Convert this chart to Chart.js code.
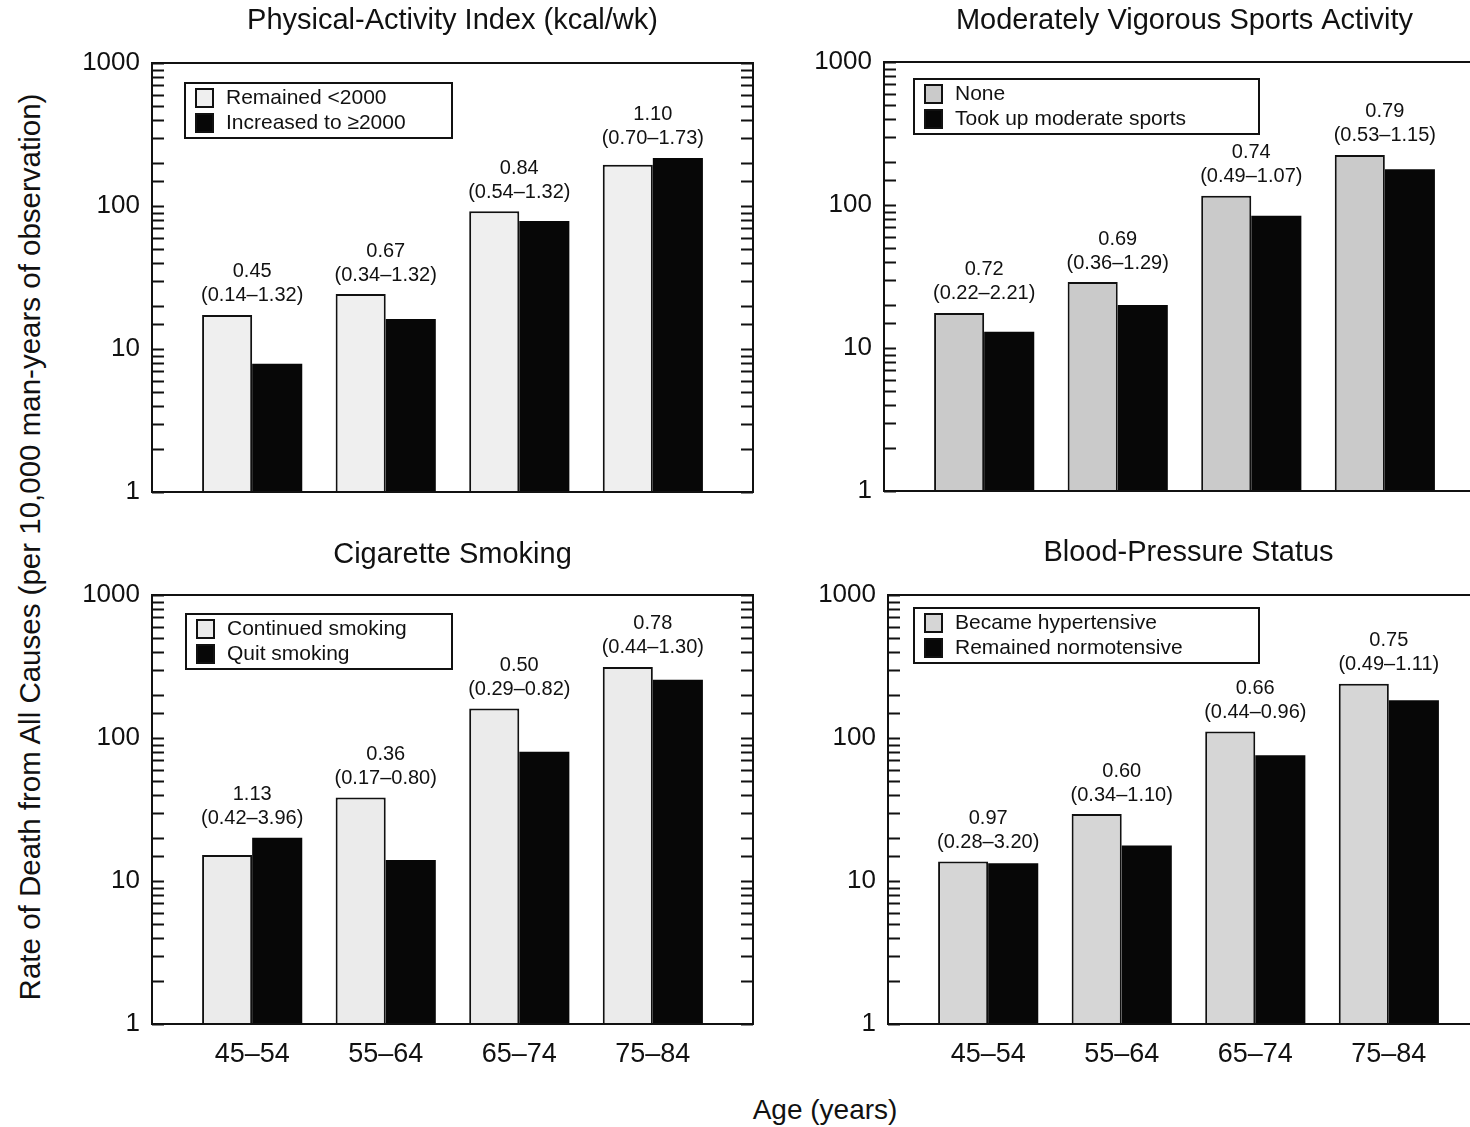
<!DOCTYPE html>
<html>
<head>
<meta charset="utf-8">
<script src="https://cdn.jsdelivr.net/npm/chart.js@4.4.1/dist/chart.umd.min.js"></script>
<style>
  html, body { margin: 0; padding: 0; background: #fff; overflow: hidden; }
  body { width: 1470px; height: 1127px; position: relative; font-family: "Liberation Sans", Arial, sans-serif; }
  canvas { position: absolute; }
  .ytitle { position: absolute; left: 30px; top: 547px; transform: translate(-50%, -50%) rotate(-90deg); white-space: nowrap; font-size: 29.5px; color: #111; }
  .xtitle { position: absolute; left: 825px; top: 1110px; transform: translate(-50%, -50%); white-space: nowrap; font-size: 28px; color: #111; }
</style>
</head>
<body>
<canvas id="c1" width="710" height="560" style="left:60px;top:0px"></canvas>
<canvas id="c2" width="710" height="560" style="left:792px;top:-1px"></canvas>
<canvas id="c3" width="710" height="560" style="left:60px;top:532px"></canvas>
<canvas id="c4" width="710" height="560" style="left:796px;top:532px"></canvas>
<div class="ytitle">Rate of Death from All Causes (per 10,000 man-years of observation)</div>
<div class="xtitle">Age (years)</div>
<script>
// age groups
var ages = ['45\u201354', '55\u201364', '65\u201374', '75\u201384'];

// Physical-Activity Index
var paiLabels = ['Remained <2000', 'Increased to \u22652000'];
var paiRemained = [17.3, 24.2, 92, 194];
var paiIncreased = [7.9, 16.2, 78.5, 217];
var paiRatio = ['0.45', '0.67', '0.84', '1.10'];
var paiCI = ['(0.14\u20131.32)', '(0.34\u20131.32)', '(0.54\u20131.32)', '(0.70\u20131.73)'];

// Moderately vigorous sports
var sportLabels = ['None', 'Took up moderate sports'];
var sportNone = [17.6, 28.9, 116, 224];
var sportTook = [13.0, 20.0, 84, 178];
var sportRatio = ['0.72', '0.69', '0.74', '0.79'];
var sportCI = ['(0.22\u20132.21)', '(0.36\u20131.29)', '(0.49\u20131.07)', '(0.53\u20131.15)'];

// Cigarette smoking
var smokeLabels = ['Continued smoking', 'Quit smoking'];
var smokeContinued = [15.2, 38.3, 161, 314];
var smokeQuit = [20.1, 14.0, 80, 255];
var smokeRatio = ['1.13', '0.36', '0.50', '0.78'];
var smokeCI = ['(0.42\u20133.96)', '(0.17\u20130.80)', '(0.29\u20130.82)', '(0.44\u20131.30)'];

// Blood pressure
var bpLabels = ['Became hypertensive', 'Remained normotensive'];
var bpHyper = [13.7, 29.4, 111, 240];
var bpNormo = [13.3, 17.7, 75.6, 184];
var bpRatio = ['0.97', '0.60', '0.66', '0.75'];
var bpCI = ['(0.28\u20133.20)', '(0.34\u20131.10)', '(0.44\u20130.96)', '(0.49\u20131.11)'];

var yTicks = [1, 10, 100, 1000];
var FONT = '"Liberation Sans", Arial, sans-serif';

var panelPlugin = {
  id: 'panel',
  afterDraw: function(chart) {
    var o = chart.options.plugins.panel;
    var ctx = chart.ctx, a = chart.chartArea;
    var ys = chart.scales.y, xs = chart.scales.x;
    ctx.save();
    // frame
    ctx.strokeStyle = '#111';
    ctx.lineWidth = 2;
    ctx.strokeRect(a.left, a.top, a.right - a.left, a.bottom - a.top);
    // inward ticks, left and right
    ys.ticks.forEach(function(t) {
      var py = Math.round(ys.getPixelForValue(t.value)) + 0.5;
      ctx.beginPath();
      ctx.moveTo(a.left, py); ctx.lineTo(a.left + 12, py);
      ctx.moveTo(a.right, py); ctx.lineTo(a.right - 12, py);
      ctx.stroke();
    });
    // title
    ctx.fillStyle = '#111';
    ctx.font = '29px ' + FONT;
    ctx.textAlign = 'center';
    ctx.textBaseline = 'middle';
    ctx.fillText(o.title, (a.left + a.right) / 2, a.top - o.titleGap);
    // ratio annotations
    ctx.font = '20px ' + FONT;
    var m0 = chart.getDatasetMeta(0).data, m1 = chart.getDatasetMeta(1).data;
    for (var i = 0; i < o.ratio.length; i++) {
      var top = Math.min(m0[i].y, m1[i].y);
      var cx = xs.getPixelForValue(i);
      ctx.fillText(o.ci[i], cx, top - 19);
      ctx.fillText(o.ratio[i], cx, top - 43);
    }
    // legend box
    var lx = a.left + o.legend.dx, ly = a.top + o.legend.dy;
    ctx.fillStyle = '#fff';
    ctx.fillRect(lx, ly, o.legend.w, 55);
    ctx.lineWidth = 2;
    ctx.strokeStyle = '#111';
    ctx.strokeRect(lx, ly, o.legend.w, 55);
    ctx.font = '21px ' + FONT;
    ctx.textAlign = 'left';
    chart.data.datasets.forEach(function(ds, k) {
      var sy = ly + 6 + k * 25;
      ctx.fillStyle = ds.backgroundColor;
      ctx.fillRect(lx + 11, sy, 17, 18);
      ctx.lineWidth = 2;
      ctx.strokeStyle = '#111';
      ctx.strokeRect(lx + 11, sy, 17, 18);
      ctx.fillStyle = '#111';
      ctx.fillText(ds.label, lx + 41, sy + 9);
    });
    ctx.restore();
  }
};

function makeChart(id, labels, a, b, lightColor, ratio, ci, title, titleGap, legend, showX) {
  return new Chart(document.getElementById(id), {
    type: 'bar',
    data: {
      datasets: [
        { label: labels[0], data: a.map(function(v, i) { return { x: i, y: v }; }),
          backgroundColor: lightColor, borderColor: '#111',
          borderWidth: { top: 2, left: 2, right: 2, bottom: 0 }, borderSkipped: 'start' },
        { label: labels[1], data: b.map(function(v, i) { return { x: i, y: v }; }),
          backgroundColor: '#070707', borderWidth: 0 }
      ]
    },
    options: {
      responsive: false,
      animation: false,
      events: [],
      categoryPercentage: 0.75,
      barPercentage: 1.0,
      layout: { padding: { left: 0, top: 63, right: 17, bottom: 28 } },
      plugins: {
        legend: { display: false },
        tooltip: { enabled: false },
        panel: { title: title, titleGap: titleGap, ratio: ratio, ci: ci, legend: legend }
      },
      scales: {
        x: {
          type: 'linear', min: -0.75, max: 3.75, offset: false,
          afterBuildTicks: function(s) { s.ticks = ages.map(function(c, i) { return { value: i }; }); },
          afterFit: function(s) { s.height = 40; },
          grid: { display: false, drawTicks: false, offset: false },
          border: { display: false },
          ticks: {
            display: showX, padding: 14, color: '#111',
            font: { family: FONT, size: 27 },
            callback: function(v) { return ages[v]; }
          }
        },
        y: {
          type: 'logarithmic', min: 1, max: 1000,
          afterFit: function(s) { s.width = 92; },
          grid: { display: false, drawTicks: false },
          border: { display: false },
          ticks: {
            padding: 12, color: '#111', autoSkip: false,
            font: { family: FONT, size: 26 },
            callback: function(v) { return yTicks.indexOf(v) >= 0 ? String(v) : ''; }
          }
        }
      }
    },
    plugins: [panelPlugin]
  });
}

makeChart('c1', paiLabels, paiRemained, paiIncreased, '#efefef', paiRatio, paiCI,
  'Physical-Activity Index (kcal/wk)', 42, { dx: 33, dy: 20, w: 267 }, false);
makeChart('c2', sportLabels, sportNone, sportTook, '#cacaca', sportRatio, sportCI,
  'Moderately Vigorous Sports Activity', 41, { dx: 30, dy: 17, w: 345 }, false);
makeChart('c3', smokeLabels, smokeContinued, smokeQuit, '#ebebeb', smokeRatio, smokeCI,
  'Cigarette Smoking', 40, { dx: 34, dy: 19, w: 266 }, true);
makeChart('c4', bpLabels, bpHyper, bpNormo, '#d6d6d6', bpRatio, bpCI,
  'Blood-Pressure Status', 42, { dx: 26, dy: 13, w: 345 }, true);
</script>
</body>
</html>
